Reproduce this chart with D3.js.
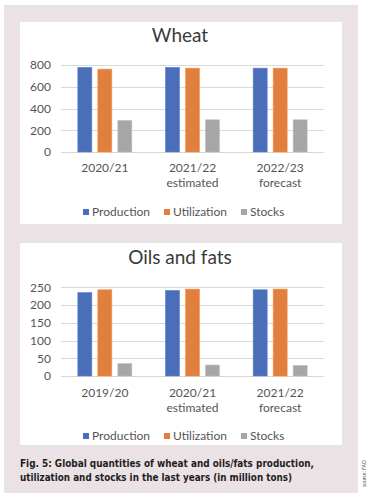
<!DOCTYPE html>
<meta charset="utf-8">
<style>
    body { margin: 0; background: white; }
    text { font-family: Lato, "Open Sans", sans-serif; }
</style>
<body>
<svg id="fig" width="373" height="500"></svg>
<script src="https://d3js.org/d3.v7.min.js"></script>
<script>
    // values in million tons
    const seriesNames = ["Production", "Utilization", "Stocks"];
    const colors = ["#4a6fb8", "#e07f3e", "#a6a6a6"];

    const wheatCats = [["2020/21"], ["2021/22", "estimated"], ["2022/23", "forecast"]];
    const wheatProduction = [778, 778, 771];
    const wheatUtilization = [762, 771, 771];
    const wheatStocks = [290, 296, 296];
    const wheatTicks = [0, 200, 400, 600, 800];

    const oilCats = [["2019/20"], ["2020/21", "estimated"], ["2021/22", "forecast"]];
    const oilProduction = [235, 241, 243];
    const oilUtilization = [243, 245, 245];
    const oilStocks = [35, 31, 30];
    const oilTicks = [0, 50, 100, 150, 200, 250];

    const svg = d3.select("#fig");

    // pink page panel
    svg.append("rect").attr("x", 4).attr("y", 5).attr("width", 354).attr("height", 488)
        .attr("fill", "#ebe2e5");

    function drawChart(top, lay, title, cats, series, ticks) {
        const g = svg.append("g").attr("transform", `translate(20,${top})`);
        g.append("rect").attr("width", 322).attr("height", 202).attr("fill", "white");

        g.append("text").attr("x", 160).attr("y", lay.title).attr("text-anchor", "middle")
            .attr("font-size", 19).attr("fill", "#3a3a3a").text(title);

        const y = d3.scaleLinear().domain([0, d3.max(ticks)]).range([lay.y0, lay.y1]);
        const x0 = d3.scaleBand().domain(cats.map((c, i) => i)).range([41, 304]);
        const x1 = d3.scaleBand().domain(seriesNames).range([x0.bandwidth() / 2 - 27, x0.bandwidth() / 2 + 27])
            .paddingInner(0.3);

        // grid lines
        g.append("g").selectAll("line").data(ticks).join("line")
            .attr("x1", 41).attr("x2", 304)
            .attr("y1", d => Math.round(y(d)) + 0.5).attr("y2", d => Math.round(y(d)) + 0.5)
            .attr("stroke", "#d9d9d9").attr("stroke-width", 1);

        const yAxis = g.append("g").attr("transform", "translate(31,0)")
            .call(d3.axisLeft(y).tickValues(ticks).tickSize(0).tickPadding(0));
        yAxis.select(".domain").remove();
        yAxis.selectAll("text").attr("font-size", 12).attr("fill", "#555")
            .style("font-family", "Lato, sans-serif");

        // bars
        cats.forEach((c, i) => {
            const grp = g.append("g").attr("transform", `translate(${x0(i)},0)`);
            grp.selectAll("rect").data(series.map((s, k) => ({ name: seriesNames[k], v: s[i], k })))
                .join("rect")
                .attr("x", d => x1(d.name)).attr("width", x1.bandwidth())
                .attr("y", d => y(d.v)).attr("height", d => y(0) - y(d.v))
                .attr("fill", d => colors[d.k])
                .attr("stroke", d => d3.color(colors[d.k]).brighter(0.4)).attr("stroke-width", 0.6);

            const t = grp.append("text").attr("x", x0.bandwidth() / 2).attr("text-anchor", "middle")
                .attr("font-size", 12).attr("fill", "#555");
            c.forEach((line, j) => {
                t.append("tspan").attr("x", x0.bandwidth() / 2).attr("y", lay.lab + j * 15).text(line);
            });
        });

        // legend
        const legX = [63, 144, 221];
        const leg = g.append("g").attr("transform", `translate(0,${lay.leg})`);
        seriesNames.forEach((n, k) => {
            leg.append("rect").attr("x", legX[k]).attr("y", -7).attr("width", 6).attr("height", 6)
                .attr("fill", colors[k]);
            leg.append("text").attr("x", legX[k] + 9).attr("y", 0).attr("font-size", 12)
                .attr("fill", "#555").text(n);
        });
    }

    drawChart(22, { title: 20, y0: 130, y1: 43, lab: 150, leg: 194 },
        "Wheat", wheatCats, [wheatProduction, wheatUtilization, wheatStocks], wheatTicks);
    drawChart(243, { title: 21, y0: 133, y1: 44.3, lab: 154, leg: 197 },
        "Oils and fats", oilCats, [oilProduction, oilUtilization, oilStocks], oilTicks);

    // caption
    const cap = svg.append("text").attr("font-size", 10).attr("font-weight", "bold").attr("fill", "#1e1e1e")
        .style("font-family", "'DejaVu Sans', sans-serif");
    cap.append("tspan").attr("x", 20).attr("y", 467).attr("textLength", 294).attr("lengthAdjust", "spacingAndGlyphs")
        .text("Fig. 5: Global quantities of wheat and oils/fats production,");
    cap.append("tspan").attr("x", 20).attr("y", 481).attr("textLength", 272).attr("lengthAdjust", "spacingAndGlyphs")
        .text("utilization and stocks in the last years (in million tons)");

    svg.append("text").attr("transform", "translate(366,487) rotate(-90)")
        .attr("font-size", 5).attr("fill", "#555").text("source: FAO");
</script>
</body>
